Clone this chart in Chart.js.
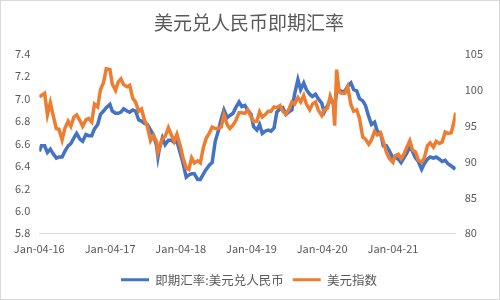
<!DOCTYPE html>
<html>
<head>
<meta charset="utf-8">
<script src="https://cdn.jsdelivr.net/npm/chart.js@4/dist/chart.umd.min.js"></script>
<style>
  html, body { margin: 0; padding: 0; background: #fff; }
  canvas { display: block; }
</style>
</head>
<body>
<canvas id="chart" width="500" height="300"></canvas>
<script>
// semi-monthly samples
const dates = [
  "2016-01-04","2016-01-15","2016-02-01","2016-02-15","2016-03-01","2016-03-15","2016-04-01","2016-04-15",
  "2016-05-01","2016-05-15","2016-06-01","2016-06-15","2016-07-01","2016-07-15","2016-08-01","2016-08-15",
  "2016-09-01","2016-09-15","2016-10-01","2016-10-15","2016-11-01","2016-11-15","2016-12-01","2016-12-15",
  "2017-01-03","2017-01-15","2017-02-01","2017-02-15","2017-03-01","2017-03-15","2017-04-01","2017-04-15",
  "2017-05-01","2017-05-15","2017-06-01","2017-06-15","2017-07-01","2017-07-15","2017-08-01","2017-08-15",
  "2017-09-01","2017-09-08","2017-09-15","2017-10-01","2017-10-15","2017-11-01","2017-11-15","2017-12-01","2017-12-15",
  "2018-01-02","2018-01-15","2018-02-01","2018-02-15","2018-03-01","2018-03-15","2018-04-01","2018-04-15",
  "2018-05-01","2018-05-15","2018-06-01","2018-06-15","2018-07-01","2018-07-15","2018-08-01","2018-08-15",
  "2018-09-01","2018-09-15","2018-10-01","2018-10-15","2018-11-01","2018-11-15","2018-12-01","2018-12-15",
  "2019-01-02","2019-01-15","2019-02-01","2019-02-15","2019-03-01","2019-03-15","2019-04-01","2019-04-15",
  "2019-05-01","2019-05-15","2019-06-01","2019-06-15","2019-07-01","2019-07-15","2019-08-01","2019-08-15",
  "2019-09-01","2019-09-15","2019-10-01","2019-10-15","2019-11-01","2019-11-15","2019-12-01","2019-12-15",
  "2020-01-02","2020-01-15","2020-02-01","2020-02-15","2020-03-01","2020-03-09","2020-03-19","2020-04-01",
  "2020-04-15","2020-05-01","2020-05-15","2020-06-01","2020-06-15","2020-07-01","2020-07-15","2020-08-01",
  "2020-08-15","2020-09-01","2020-09-15","2020-10-01","2020-10-15","2020-11-01","2020-11-15","2020-12-01","2020-12-15",
  "2021-01-04","2021-01-15","2021-02-01","2021-02-15","2021-03-01","2021-03-15","2021-04-01","2021-04-15",
  "2021-05-01","2021-05-15","2021-06-01","2021-06-15","2021-07-01","2021-07-15","2021-08-01","2021-08-15",
  "2021-09-01","2021-09-15","2021-10-01","2021-10-15","2021-11-01","2021-11-15","2021-11-24"
];

const cnyRate = [
  6.53, 6.58, 6.58, 6.52, 6.55, 6.51, 6.47, 6.48, 6.48, 6.53, 6.58, 6.60, 6.65, 6.69, 6.64, 6.62,
  6.68, 6.67, 6.67, 6.73, 6.77, 6.86, 6.89, 6.92,
  6.95, 6.89, 6.87, 6.87, 6.88, 6.91, 6.89, 6.88, 6.90, 6.89, 6.81, 6.80, 6.78, 6.77, 6.72, 6.68,
  6.58, 6.48, 6.55, 6.65, 6.59, 6.63, 6.63, 6.61, 6.62,
  6.51, 6.43, 6.30, 6.32, 6.33, 6.33, 6.28, 6.28, 6.33, 6.37, 6.41, 6.43, 6.62, 6.70, 6.82, 6.90,
  6.83, 6.85, 6.87, 6.92, 6.97, 6.93, 6.94, 6.90,
  6.86, 6.75, 6.72, 6.77, 6.69, 6.71, 6.72, 6.71, 6.74, 6.88, 6.91, 6.92, 6.86, 6.88, 6.90, 7.04,
  7.17, 7.08, 7.14, 7.08, 7.04, 7.02, 7.04, 7.00,
  6.96, 6.88, 6.94, 6.99, 6.96, 6.93, 7.06, 7.08, 7.06, 7.07, 7.11, 7.14, 7.08, 7.07, 7.00, 6.98,
  6.94, 6.84, 6.77, 6.79, 6.71, 6.69, 6.58, 6.58, 6.54,
  6.47, 6.48, 6.46, 6.43, 6.47, 6.51, 6.57, 6.53, 6.47, 6.44, 6.37, 6.42, 6.46, 6.48, 6.47, 6.48,
  6.46, 6.44, 6.45, 6.42, 6.40, 6.38, 6.39
];

const usdIndex = [
  99.0, 99.2, 99.5, 96.5, 98.2, 96.5, 94.6, 94.5, 93.0, 94.6, 95.6, 94.9, 96.2, 96.5, 95.7, 94.9,
  95.8, 96.0, 95.5, 98.0, 97.6, 100.0, 101.0, 102.9,
  102.8, 100.8, 99.9, 101.1, 101.5, 100.7, 100.4, 100.6, 98.8, 98.3, 97.0, 97.3, 95.7, 94.9, 92.9, 93.6,
  92.8, 91.3, 91.9, 93.2, 93.5, 94.7, 93.8, 92.8, 93.8,
  92.1, 90.6, 89.1, 88.9, 90.5, 89.8, 90.1, 89.8, 92.0, 93.2, 94.0, 94.8, 94.6, 94.6, 94.8, 96.5,
  95.1, 94.6, 95.1, 95.7, 96.8, 96.8, 96.7, 97.2,
  96.2, 95.6, 95.6, 96.9, 96.2, 96.5, 97.0, 97.0, 97.6, 97.5, 97.8, 97.0, 96.6, 97.2, 98.3, 98.0,
  98.9, 98.3, 99.2, 98.0, 97.2, 98.0, 98.3, 97.2,
  96.4, 97.2, 97.4, 99.1, 98.1, 95.0, 102.8, 99.7, 99.5, 99.5, 100.4, 97.9, 97.0, 97.2, 96.0, 93.4,
  93.1, 92.4, 93.0, 94.2, 93.7, 94.0, 92.8, 91.3, 90.5,
  89.9, 90.8, 91.0, 90.4, 91.0, 91.9, 92.9, 91.6, 91.3, 90.2, 89.9, 90.5, 92.2, 92.6, 92.0, 92.8,
  92.5, 92.7, 94.1, 93.9, 94.0, 95.5, 96.8
];

const tickDates = ["2016-01-04","2017-01-04","2018-01-04","2019-01-04","2020-01-04","2021-01-04"];
const tickLabels = ["Jan-04-16","Jan-04-17","Jan-04-18","Jan-04-19","Jan-04-20","Jan-04-21"];

const seriesNames = ["即期汇率:美元兑人民币", "美元指数"];
const seriesColors = ["#4472C4", "#ED7D31"];

const startTime = Date.parse(dates[0]);
const dayOffset = (d) => (Date.parse(d) - startTime) / 86400000;

const textColor = "#595959";
const fontFamily = "'Noto Sans CJK SC', 'Noto Sans', sans-serif";

// white background + thin frame like the original
const framePlugin = {
  id: "frame",
  beforeDraw(chart) {
    const c = chart.ctx;
    c.save();
    c.fillStyle = "#fff";
    c.fillRect(0, 0, chart.width, chart.height);
    c.strokeStyle = "#d9d9d9";
    c.lineWidth = 1;
    c.strokeRect(0.5, 0.5, chart.width - 1, chart.height - 1);
    c.restore();
  }
};

const ctx = document.getElementById("chart").getContext("2d");
const myChart = new Chart(ctx, {
  type: "line",
  data: {
    datasets: [
      {
        label: seriesNames[0],
        data: dates.map((d, i) => ({ x: dayOffset(d), y: cnyRate[i] })),
        yAxisID: "y",
        borderColor: seriesColors[0],
        backgroundColor: seriesColors[0],
        borderWidth: 3.5,
        pointRadius: 0,
        order: 2,
      },
      {
        label: seriesNames[1],
        data: dates.map((d, i) => ({ x: dayOffset(d), y: usdIndex[i] })),
        yAxisID: "y1",
        borderColor: seriesColors[1],
        backgroundColor: seriesColors[1],
        borderWidth: 3.5,
        pointRadius: 0,
        order: 1,
      },
    ],
  },
  plugins: [framePlugin],
  options: {
    responsive: false,
    animation: false,
    layout: { padding: { left: 6, right: 8, top: 0, bottom: 4 } },
    plugins: {
      title: {
        display: true,
        text: "美元兑人民币即期汇率",
        color: textColor,
        font: { family: fontFamily, size: 19, weight: "normal" },
        padding: { top: 11, bottom: 20 },
      },
      legend: {
        position: "bottom",
        labels: {
          boxWidth: 28,
          boxHeight: 3,
          padding: 9,
          color: textColor,
          font: { family: fontFamily, size: 12.5 },
          sort: (a, b) => a.datasetIndex - b.datasetIndex,
          generateLabels: (chart) =>
            Chart.defaults.plugins.legend.labels.generateLabels(chart).map((item) => {
              item.lineWidth = 0;
              return item;
            }),
        },
      },
      tooltip: { enabled: false },
    },
    scales: {
      x: {
        type: "linear",
        min: 0,
        max: dayOffset(dates[dates.length - 1]),
        grid: { display: false, drawTicks: false },
        border: { display: true, color: "#d9d9d9", width: 1 },
        afterBuildTicks: (scale) => {
          scale.ticks = tickDates.map((d) => ({ value: dayOffset(d) }));
        },
        ticks: {
          autoSkip: false,
          maxRotation: 0,
          padding: 9,
          color: textColor,
          font: { family: fontFamily, size: 11 },
          callback: (v, i) => tickLabels[i],
        },
      },
      y: {
        position: "left",
        min: 5.8,
        max: 7.4,
        grid: { display: false, drawTicks: false },
        border: { display: false },
        ticks: {
          stepSize: 0.2,
          padding: 9,
          color: textColor,
          font: { family: fontFamily, size: 11 },
          callback: (v) => v.toFixed(1),
        },
      },
      y1: {
        position: "right",
        min: 80,
        max: 105,
        grid: { display: false, drawTicks: false },
        border: { display: false },
        ticks: {
          stepSize: 5,
          padding: 9,
          color: textColor,
          font: { family: fontFamily, size: 11 },
        },
      },
    },
  },
});
</script>
</body>
</html>
